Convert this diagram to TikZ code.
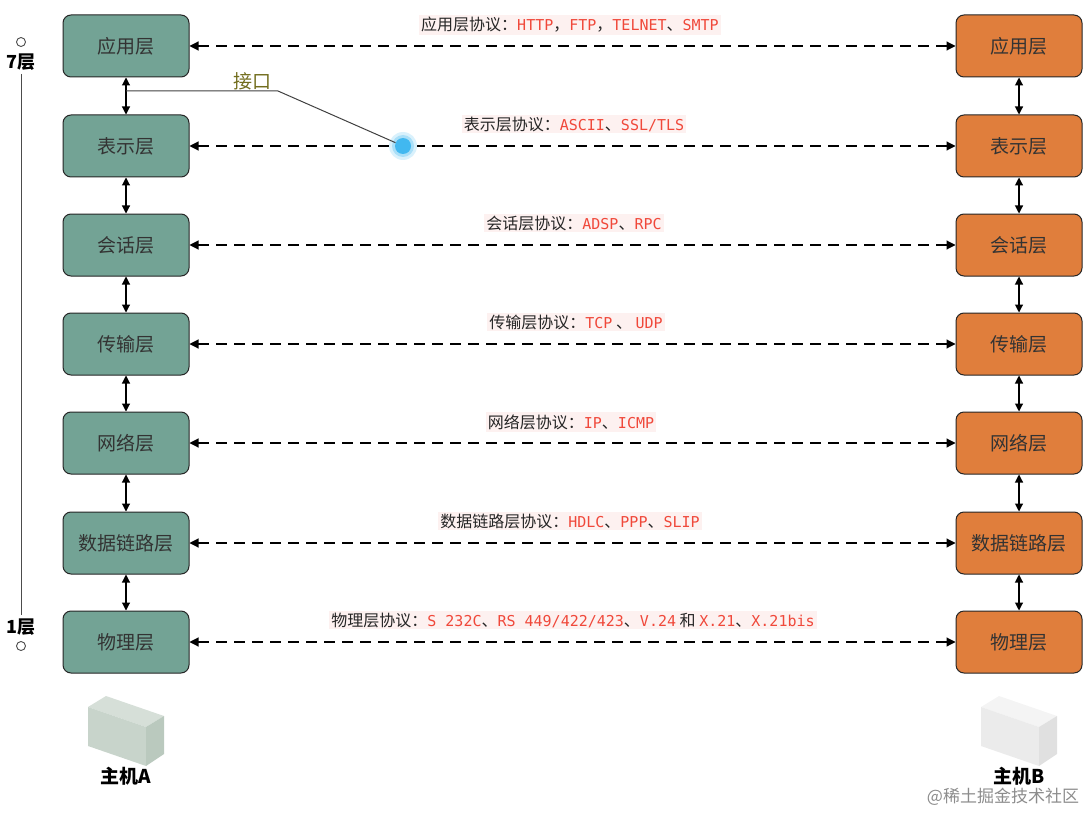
\documentclass[tikz,border=0pt]{standalone}
\usepackage{fontspec}
\setmainfont{Noto Sans CJK SC}
\setmonofont{DejaVu Sans Mono}
\usetikzlibrary{arrows.meta}
\definecolor{gA}{HTML}{73A395}
\definecolor{oB}{HTML}{E07E3C}
\definecolor{rd}{HTML}{F0483A}
\definecolor{pk}{HTML}{FDF1F0}
\definecolor{dotc}{HTML}{41B8F0}
\definecolor{hAtop}{HTML}{D6DFD8}
\definecolor{hAfront}{HTML}{C8D4CB}
\definecolor{hAside}{HTML}{BAC9BE}
\definecolor{hBtop}{HTML}{F4F4F4}
\definecolor{hBfront}{HTML}{EBEBEB}
\definecolor{hBside}{HTML}{E0E0E0}
\begin{document}
\begin{tikzpicture}[x=1pt,y=-1pt,
 box/.style={draw=black!85,line width=1pt,rounded corners=8pt,minimum width=126pt,minimum height=62pt,font=\fontsize{19}{19}\selectfont,text=black!80},
 la/.style={box,fill=gA},
 lb/.style={box,fill=oB},
 proto/.style={font=\fontsize{16}{16}\selectfont,text=black!85,fill=pk,inner sep=2pt},
 dashar/.style={dash pattern=on 11pt off 7pt,line width=1.1pt,{Triangle[length=9pt,width=9pt]}-{Triangle[length=9pt,width=9pt]}},
 vert/.style={line width=1.1pt,{Triangle[length=8pt,width=8pt]}-{Triangle[length=8pt,width=8pt]}}]
\useasboundingbox (0,0) rectangle (1089,813);
\newcommand\rt[1]{\textcolor{rd}{\texttt{\fontsize{15}{15}\selectfont #1}}}
\foreach \n/\t/\y in {1/应用层/46,2/表示层/146,3/会话层/245,4/传输层/344,5/网络层/443,6/数据链路层/543,7/物理层/642}{
 \node[la] (a\n) at (126,\y) {\t};
 \node[lb] (b\n) at (1019,\y) {\t};
 \draw[dashar] (a\n) -- (b\n);
}
\foreach \i/\j in {1/2,2/3,3/4,4/5,5/6,6/7}{
 \draw[vert] (a\i) -- (a\j);
 \draw[vert] (b\i) -- (b\j);
}
\node[proto] (p1) at (570,25) {应用层协议：\rt{HTTP}，\rt{FTP}，\rt{TELNET}、\rt{SMTP}};
\node[proto] (p2) at (574,124) {表示层协议：\rt{ASCII}、\rt{SSL/TLS}};
\node[proto] (p3) at (574,223) {会话层协议：\rt{ADSP}、\rt{RPC}};
\node[proto] (p4) at (576,322) {传输层协议：\rt{TCP} 、 \rt{UDP}};
\node[proto] (p5) at (571,422) {网络层协议：\rt{IP}、\rt{ICMP}};
\node[proto] (p6) at (570,521) {数据链路层协议：\rt{HDLC}、\rt{PPP}、\rt{SLIP}};
\node[proto] (p7) at (573,620) {物理层协议：\rt{S 232C}、\rt{RS 449/422/423}、\rt{V.24} 和 \rt{X.21}、\rt{X.21bis}};
% interface
\coordinate (i0) at (126,91);
\coordinate (i1) at (278,91);
\node[circle,fill=dotc!20,minimum size=28pt,inner sep=0] (dotg) at (403,146) {};
\node[circle,fill=dotc!45,minimum size=22pt,inner sep=0] (dotm) at (403,146) {};
\node[circle,fill=dotc,minimum size=16pt,inner sep=0] (dot) at (403,146) {};
\draw[line width=1pt,black!75] (i0) -- (i1) -- (dot);
\node[font=\fontsize{19}{19}\selectfont,text=olive!75!black] (jk) at (252,81) {接口};
% layers axis
\node[circle,draw=black!70,line width=0.9pt,minimum size=9pt,inner sep=0] (c7) at (21,42) {};
\node[font=\bfseries\fontsize{18}{18}\selectfont] (l7) at (21,62) {7层};
\node[font=\bfseries\fontsize{18}{18}\selectfont] (l1) at (21,627) {1层};
\node[circle,draw=black!70,line width=0.9pt,minimum size=9pt,inner sep=0] (c1) at (21,646) {};
\draw[black!70,line width=1pt] (l7) -- (l1);
% hosts
\foreach \x/\nm/\lab in {126/hA/主机A,1019/hB/主机B}{
 \begin{scope}[shift={(\x,730)}]
  \fill[\nm top] (-38,-23) -- (-20,-34) -- (38,-14) -- (20,-3) -- cycle;
  \fill[\nm front] (-38,-23) -- (20,-3) -- (20,36) -- (-38,16) -- cycle;
  \fill[\nm side] (20,-3) -- (38,-14) -- (38,24) -- (20,36) -- cycle;
 \end{scope}
 \node[font=\bfseries\fontsize{19}{19}\selectfont] (\nm) at (\x,776) {\lab};
}
\node[font=\fontsize{17}{17}\selectfont,text=black!45] (wm) at (1003,797) {@稀土掘金技术社区};
\end{tikzpicture}
\end{document}
